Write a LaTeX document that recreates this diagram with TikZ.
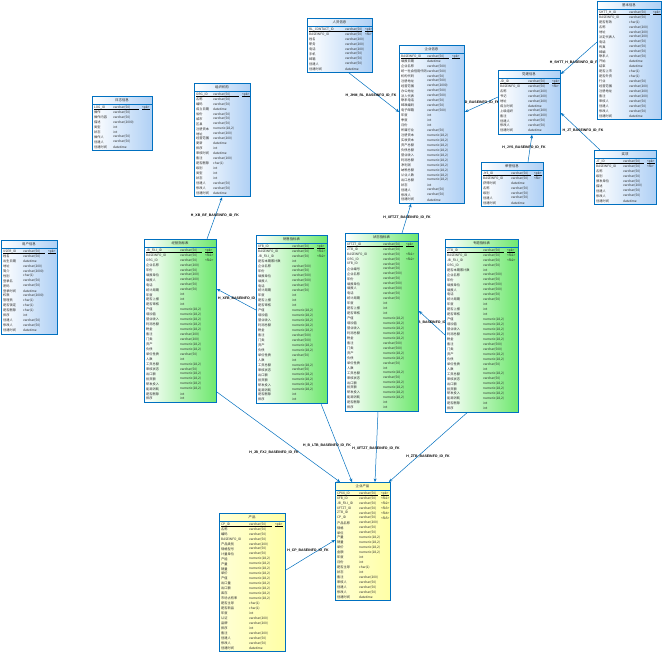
\documentclass[tikz,border=0pt]{standalone}
\usepackage{fontspec}
\newfontfamily\cjk{Noto Sans CJK SC}
\newfontfamily\labfont{Liberation Sans}
\usetikzlibrary{arrows.meta}
\definecolor{erblue}{RGB}{0,112,192}
\definecolor{erfillB}{RGB}{175,208,245}
\definecolor{erfillG}{RGB}{110,232,110}
\definecolor{erfillY}{RGB}{255,255,165}
\newcommand\vc[1]{varchar(#1)}
\newcommand\ernum{numeric(18,2)}
\newcommand\erdt{datetime}
\newcommand\ernk{}
\newcount\ernrows
\def\erhdr{8}
\def\errowh{4.95}
\pgfdeclarelayer{back}
\pgfdeclarelayer{bg}
\pgfsetlayers{back,bg,main}
% #1 name, #2 style, #3 x, #4 y, #5 width, #6 title, #7 type col, #8 key col, #9 rows
\newcommand{\ertable}[9]{%
  \global\ernrows=0
  \foreach \fa/\fb/\fc in {#9} {\global\advance\ernrows by 1}
  \pgfmathsetmacro\erh{\erhdr+\the\ernrows*\errowh+1.5}
  \node[#2, minimum width=#5, minimum height=\erh, anchor=north west] (#1) at (#3,#4) {};
  \node[titletxt] at ({#3+#5/2},{#4+\erhdr/2}) {#6};
  \draw[erline] (#3,{#4+\erhdr}) -- ({#3+#5},{#4+\erhdr});
  \foreach \fa/\fb/\fc [count=\ri] in {#9} {
    \pgfmathsetmacro\yy{#4+\erhdr+0.75+(\ri-0.5)*\errowh}
    \node[celltxt] at ({#3+2},\yy) {\fa};
    \node[celltxt] at ({#3+#7},\yy) {\fb};
    \node[celltxt] at ({#3+#8},\yy) {\fc};
  }
  \pgfmathsetmacro\ul{#4+\erhdr+0.75+\errowh-0.5}
  \draw[pkline] ({#3+2},\ul) -- ({#3+#8-3},\ul);
  \draw[pkline] ({#3+#8},\ul) -- ({#3+#8+8},\ul);
}
\begin{document}
\begin{tikzpicture}[x=1pt,y=-1pt,
  erB/.style={draw=erblue, line width=0.9pt, left color=white, right color=erfillB, inner sep=0pt},
  erG/.style={draw=erblue, line width=0.9pt, left color=white, right color=erfillG, inner sep=0pt},
  erY/.style={draw=erblue, line width=0.9pt, left color=erfillY!45!white, right color=erfillY, inner sep=0pt},
  celltxt/.style={anchor=west, inner sep=0pt, font=\cjk\fontsize{3.2}{3.6}\selectfont, text=black!85},
  titletxt/.style={inner sep=0pt, font=\cjk\fontsize{3.4}{4}\selectfont, text=black!85},
  erline/.style={draw=erblue, line width=0.6pt},
  pkline/.style={draw=black, line width=0.4pt},
  rel/.style={draw=erblue, line width=0.5pt, -{Stealth[length=3.5pt,width=3pt]}},
  rellab/.style={font=\labfont\bfseries\fontsize{3.5}{4}\selectfont, inner sep=0.5pt}]
\begin{pgfonlayer}{back}
\fill[white] (0,0) rectangle (666,656);
\end{pgfonlayer}
\useasboundingbox (0,0) rectangle (666,656);

% T1
\ertable{T1}{erB}{307}{18}{65}{人员信息}{38}{58}{%
RL\_CONTACT\_ID/\vc{50}/<pk>, BASEINFO\_ID/\vc{50}/<fk>, 姓名/\vc{200}/\ernk, 职务/\vc{200}/\ernk,
电话/\vc{200}/\ernk, 手机/\vc{50}/\ernk, 邮箱/\vc{50}/\ernk, 创建人/\vc{50}/\ernk, 创建时间/\erdt/\ernk}

% T2
\ertable{T2}{erB}{597}{1}{64}{基本信息}{32}{56}{%
SHTT\_H\_ID/\vc{50}/<pk>, BASEINFO\_ID/\vc{50}/\ernk, 是否有效/char(1)/\ernk, 名称/\vc{200}/\ernk,
地址/\vc{200}/\ernk, 法定代表人/\vc{200}/\ernk, 电话/\vc{50}/\ernk, 传真/\vc{50}/\ernk,
邮编/\vc{50}/\ernk, 联系人/\vc{50}/\ernk, 开始/\erdt/\ernk, 结束/\erdt/\ernk,
是否上市/char(1)/\ernk, 是否外资/char(1)/\ernk, 行业/\vc{50}/\ernk, 经营范围/\vc{200}/\ernk,
注册地址/\vc{200}/\ernk, 备注/\vc{200}/\ernk, 审核人/\vc{50}/\ernk, 创建人/\vc{50}/\ernk,
修改人/\vc{50}/\ernk, 创建时间/\erdt/\ernk}

% T3
\ertable{T3}{erB}{92}{96}{60}{日志信息}{21}{50}{%
LOG\_ID/\vc{50}/<pk>, 操作/\vc{50}/\ernk, 操作内容/\vc{50}/\ernk, 描述/\vc{2000}/\ernk,
类型/int/\ernk, 状态/int/\ernk, 操作人/\vc{50}/\ernk, 创建人/\vc{50}/\ernk, 创建时间/\erdt/\ernk}

% T4
\ertable{T4}{erB}{194}{83}{56}{组织机构}{19}{48}{%
ORG\_ID/\vc{50}/<pk>, 名称/\vc{50}/\ernk, 编码/\vc{50}/\ernk, 成立日期/\erdt/\ernk,
省份/\vc{50}/\ernk, 城市/\vc{50}/\ernk, 区县/\vc{50}/\ernk, 注册资本/\ernum/\ernk,
地址/\vc{200}/\ernk, 经营范围/\vc{200}/\ernk, 更新/\erdt/\ernk, 排序/int/\ernk,
审核时间/\erdt/\ernk, 备注/\vc{100}/\ernk, 是否删除/char(1)/\ernk, 级别/int/\ernk,
类型/int/\ernk, 状态/int/\ernk, 创建人/\vc{50}/\ernk, 修改人/\vc{50}/\ernk, 创建时间/\erdt/\ernk}

% T5
\ertable{T5}{erB}{399}{45}{65}{企业信息}{28}{53}{%
BASEINFO\_ID/\vc{50}/<pk>, 填报日期/\erdt/\ernk, 企业名称/\vc{500}/\ernk, 统一社会信用代码/\vc{500}/\ernk,
机构代码/\vc{50}/\ernk, 注册地址/\vc{500}/\ernk, 经营范围/\vc{2000}/\ernk, 办公地址/\vc{500}/\ernk,
法人代表/\vc{500}/\ernk, 联系电话/\vc{50}/\ernk, 邮政编码/\vc{50}/\ernk, 电子邮箱/\vc{500}/\ernk,
年度/int/\ernk, 季度/int/\ernk, 月份/int/\ernk, 所属行业/\vc{50}/\ernk,
注册资本/\ernum/\ernk, 实收资本/\ernum/\ernk, 资产总额/\ernum/\ernk, 负债总额/\ernum/\ernk,
营业收入/\ernum/\ernk, 利润总额/\ernum/\ernk, 净利润/\ernum/\ernk, 纳税总额/\ernum/\ernk,
从业人数/\ernum/\ernk, 出口总额/\ernum/\ernk, 状态/int/\ernk, 创建人/\vc{50}/\ernk,
修改人/\vc{50}/\ernk, 创建时间/\erdt/\ernk}

% T6
\ertable{T6}{erB}{498}{70}{62}{党建信息}{30}{54}{%
JD\_ID/\vc{50}/<pk>, BASEINFO\_ID/\vc{50}/<fk>, 名称/\vc{200}/\ernk, 书记/\vc{200}/\ernk,
地址/\vc{200}/\ernk, 成立时间/\erdt/\ernk, 上级组织/\vc{200}/\ernk, 备注/\vc{200}/\ernk,
创建人/\vc{50}/\ernk, 修改人/\vc{50}/\ernk, 创建时间/\erdt/\ernk}

% T7
\ertable{T7}{erB}{481}{162}{62}{荣誉信息}{30}{53}{%
JYS\_ID/\vc{50}/<pk>, BASEINFO\_ID/\vc{50}/<fk>, 获得时间/\erdt/\ernk, 名称/\vc{50}/\ernk,
级别/\vc{50}/\ernk, 创建人/\vc{50}/\ernk, 创建时间/\erdt/\ernk}

% T8
\ertable{T8}{erB}{594}{150}{62}{奖项}{29}{53}{%
JT\_ID/\vc{50}/<pk>, BASEINFO\_ID/\vc{50}/<fk>, 名称/\vc{50}/\ernk, 级别/\vc{50}/\ernk,
颁发单位/\vc{50}/\ernk, 描述/\vc{200}/\ernk, 创建人/\vc{50}/\ernk, 修改人/\vc{50}/\ernk, 创建时间/\erdt/\ernk}

% T9
\ertable{T9}{erB}{1}{240}{56}{用户信息}{22}{47}{%
USER\_ID/\vc{50}/<pk>, 姓名/\vc{50}/\ernk, 出生日期/\erdt/\ernk, 地址/\vc{200}/\ernk,
简介/\vc{2000}/\ernk, 性别/char(1)/\ernk, 登录名/\vc{50}/\ernk, 密码/\vc{50}/\ernk,
登录时间/\erdt/\ernk, 权限/\vc{2000}/\ernk, 管理员/char(1)/\ernk, 是否锁定/char(1)/\ernk,
是否删除/char(1)/\ernk, 排序/int/\ernk, 创建人/\vc{50}/\ernk, 修改人/\vc{50}/\ernk, 创建时间/\erdt/\ernk}

% G1
\ertable{G1}{erG}{144}{239}{72}{经营指标表}{36}{61}{%
JB\_FXJ\_ID/\vc{50}/<pk>, BASEINFO\_ID/\vc{50}/<fk1>, ORG\_ID/\vc{50}/<fk2>, 企业名称/\vc{200}/\ernk,
年份/\vc{50}/\ernk, 填报单位/\vc{200}/\ernk, 填报人/\vc{200}/\ernk, 电话/\vc{50}/\ernk,
统计周期/\vc{50}/\ernk, 年度/int/\ernk, 是否上报/int/\ernk, 是否审核/int/\ernk,
产值/\ernum/\ernk, 增加值/\ernum/\ernk, 营业收入/\ernum/\ernk, 利润总额/\ernum/\ernk,
税金/\ernum/\ernk, 备注/\vc{200}/\ernk, 门类/\vc{200}/\ernk, 资产/\ernum/\ernk,
负债/\ernum/\ernk, 单位性质/\vc{50}/\ernk, 人数/int/\ernk, 工资总额/\ernum/\ernk,
审核状态/\vc{50}/\ernk, 出口额/\ernum/\ernk, 投资额/\ernum/\ernk, 研发投入/\ernum/\ernk,
能源消耗/\ernum/\ernk, 是否删除/int/\ernk, 排序/int/\ernk}

% G2
\ertable{G2}{erG}{256}{235}{71}{销售指标表}{36}{61}{%
XFB\_ID/\vc{50}/<pk>, BASEINFO\_ID/\vc{50}/<fk1>, JB\_FXJ\_ID/\vc{50}/<fk2>, 是否本期累计数/int/\ernk,
企业名称/\vc{500}/\ernk, 年份/\vc{50}/\ernk, 填报单位/\vc{500}/\ernk, 填报人/\vc{500}/\ernk,
电话/\vc{50}/\ernk, 统计周期/\vc{50}/\ernk, 年度/int/\ernk, 是否上报/int/\ernk,
是否审核/int/\ernk, 产值/\ernum/\ernk, 增加值/\ernum/\ernk, 营业收入/\ernum/\ernk,
利润总额/\ernum/\ernk, 税金/\ernum/\ernk, 备注/\vc{500}/\ernk, 门类/\vc{500}/\ernk,
资产/\ernum/\ernk, 负债/\ernum/\ernk, 单位性质/\vc{50}/\ernk, 人数/int/\ernk,
工资总额/\ernum/\ernk, 审核状态/\vc{50}/\ernk, 出口额/\ernum/\ernk, 投资额/\ernum/\ernk,
研发投入/\ernum/\ernk, 能源消耗/\ernum/\ernk, 是否删除/int/\ernk, 排序/int/\ernk}

% G3
\ertable{G3}{erG}{345}{233}{73}{状态指标表}{38}{61}{%
XFTZT\_ID/\vc{50}/<pk>, ZTB\_ID/\vc{50}/\ernk, BASEINFO\_ID/\vc{50}/<fk1>, ORG\_ID/\vc{50}/<fk2>,
XFB\_ID/\vc{50}/\ernk, 企业编号/\vc{50}/\ernk, 企业名称/\vc{500}/\ernk, 年份/\vc{50}/\ernk,
填报单位/\vc{500}/\ernk, 填报人/\vc{500}/\ernk, 电话/\vc{50}/\ernk, 统计周期/\vc{50}/\ernk,
年度/int/\ernk, 是否上报/int/\ernk, 是否审核/int/\ernk, 产值/\ernum/\ernk,
增加值/\ernum/\ernk, 营业收入/\ernum/\ernk, 利润总额/\ernum/\ernk, 税金/\ernum/\ernk,
备注/\vc{500}/\ernk, 门类/\vc{500}/\ernk, 资产/\ernum/\ernk, 负债/\ernum/\ernk,
单位性质/\vc{50}/\ernk, 人数/int/\ernk, 工资总额/\ernum/\ernk, 审核状态/\vc{50}/\ernk,
出口额/\ernum/\ernk, 投资额/\ernum/\ernk, 研发投入/\ernum/\ernk, 能源消耗/\ernum/\ernk,
是否删除/int/\ernk, 排序/int/\ernk}

% G4
\ertable{G4}{erG}{445}{239}{73}{专题指标表}{38}{62}{%
ZTB\_ID/\vc{50}/<pk>, BASEINFO\_ID/\vc{50}/<fk1>, JB\_FXJ\_ID/\vc{50}/<fk2>, ORG\_ID/\vc{50}/\ernk,
是否本期累计数/int/\ernk, 企业名称/\vc{500}/\ernk, 年份/\vc{50}/\ernk, 填报单位/\vc{500}/\ernk,
填报人/\vc{500}/\ernk, 电话/\vc{50}/\ernk, 统计周期/\vc{50}/\ernk, 年度/int/\ernk,
是否上报/int/\ernk, 是否审核/int/\ernk, 产值/\ernum/\ernk, 增加值/\ernum/\ernk,
营业收入/\ernum/\ernk, 利润总额/\ernum/\ernk, 税金/\ernum/\ernk, 备注/\vc{500}/\ernk,
门类/\vc{500}/\ernk, 资产/\ernum/\ernk, 负债/\ernum/\ernk, 单位性质/\vc{50}/\ernk,
人数/int/\ernk, 工资总额/\ernum/\ernk, 审核状态/\vc{50}/\ernk, 出口额/\ernum/\ernk,
投资额/\ernum/\ernk, 研发投入/\ernum/\ernk, 能源消耗/\ernum/\ernk, 是否删除/int/\ernk, 排序/int/\ernk}

% Y1
\ertable{Y1}{erY}{335}{482}{55}{企业产品}{24}{46}{%
CPXX\_ID/\vc{50}/<pk>, XFB\_ID/\vc{50}/<fk1>, JB\_FXJ\_ID/\vc{50}/<fk2>, XFTZT\_ID/\vc{50}/<fk3>,
ZTB\_ID/\vc{50}/<fk4>, CP\_ID/\vc{50}/<fk5>, 产品名称/\vc{200}/\ernk, 规格/\vc{50}/\ernk,
单位/\vc{50}/\ernk, 产量/\ernum/\ernk, 销量/\ernum/\ernk, 单价/\ernum/\ernk,
金额/\ernum/\ernk, 年度/int/\ernk, 月份/int/\ernk, 是否主导/char(1)/\ernk,
状态/int/\ernk, 备注/\vc{200}/\ernk, 审核人/\vc{50}/\ernk, 创建人/\vc{50}/\ernk,
修改人/\vc{50}/\ernk, 创建时间/\erdt/\ernk}

% Y2
\ertable{Y2}{erY}{219}{513}{66}{产品}{30}{56}{%
CP\_ID/\vc{50}/<pk>, 名称/\vc{50}/\ernk, 编码/\vc{50}/\ernk, BASEINFO\_ID/\vc{50}/\ernk,
产品类别/\vc{200}/\ernk, 规格型号/\vc{50}/\ernk, 计量单位/\vc{50}/\ernk, 产能/\ernum/\ernk,
产量/\ernum/\ernk, 销量/\ernum/\ernk, 单价/\ernum/\ernk, 产值/\ernum/\ernk,
出口量/\ernum/\ernk, 出口额/\ernum/\ernk, 库存/\ernum/\ernk, 市场占有率/\ernum/\ernk,
是否主导/char(1)/\ernk, 是否新品/char(1)/\ernk, 年度/int/\ernk, 认证/\vc{200}/\ernk,
品牌/\vc{200}/\ernk, 排序/int/\ernk, 备注/\vc{200}/\ernk, 创建人/\vc{50}/\ernk,
修改人/\vc{50}/\ernk, 创建时间/\erdt/\ernk}

\begin{pgfonlayer}{bg}
\draw[rel] ([xshift=42pt]T1.south west) -- ([yshift=-67pt]T5.north west);
\draw[rel] ([yshift=-27pt]T6.north west) -- ([yshift=-67pt]T5.north east);
\draw[rel] ([yshift=-41pt]T2.north west) -- ([yshift=-4pt]T6.north east);
\draw[rel] ([xshift=6pt]T8.north west) -- ([yshift=-43pt]T6.north east);
\draw[rel] ([xshift=47pt]T7.north west) -- ([xshift=34pt]T6.south west);
\draw[rel] ([xshift=63pt]G1.north west) -- ([xshift=28pt]T4.south west);
\draw[rel] ([yshift=-75pt]G2.north west) -- ([yshift=-50pt]G1.north east);
\draw[rel] ([xshift=57pt]G3.north west) -- ([xshift=12pt]T5.south west);
\draw[rel] ([yshift=-96pt]G4.north west) -- ([yshift=-78pt]G3.north east);
\draw[rel] ([yshift=-153pt]G1.north east) -- ([xshift=5pt]Y1.north west);
\draw[rel] ([xshift=65pt]G2.south west) -- ([xshift=17pt]Y1.north west);
\draw[rel] ([xshift=33pt]G3.south west) -- ([xshift=40pt]Y1.north west);
\draw[rel] ([xshift=22pt]G4.south west) -- ([xshift=-2pt]Y1.north east);
\draw[rel] ([yshift=-57pt]Y2.north east) -- ([yshift=-58pt]Y1.north west);

\node[rellab] (lab1) at (371,95) {H\_JHM\_RL\_BASEINFO\_ID\_FK};
\node[rellab] (lab2) at (479,102) {H\_JD\_BASEINFO\_ID\_FK};
\node[rellab] (lab3) at (575,62) {H\_SHTT\_H\_BASEINFO\_ID\_FK};
\node[rellab] (lab4) at (583,130) {H\_JT\_BASEINFO\_ID\_FK};
\node[rellab] (lab5) at (524,147) {H\_JYS\_BASEINFO\_ID\_FK};
\node[rellab] (lab6) at (215,215) {H\_XB\_BF\_BASEINFO\_ID\_FK};
\node[rellab] (lab7) at (240,298) {H\_XFB\_BASEINFO\_ID\_FK};
\node[rellab] (lab8) at (407,217) {H\_XFTZT\_BASEINFO\_ID\_FK};
\node[rellab] (lab9) at (431,322) {H\_ZTB\_BASEINFO\_ID\_FK};
\node[rellab] (lab10) at (274,452) {H\_JB\_FXJ\_BASEINFO\_ID\_FK};
\node[rellab] (lab11) at (327,445) {H\_B\_LTB\_BASEINFO\_ID\_FK};
\node[rellab] (lab12) at (376,448) {H\_XFTZT\_BASEINFO\_ID\_FK};
\node[rellab] (lab13) at (428,456) {H\_ZTB\_BASEINFO\_ID\_FK};
\node[rellab] (lab14) at (308,550) {H\_CP\_BASEINFO\_ID\_FK};
\end{pgfonlayer}
\end{tikzpicture}
\end{document}
